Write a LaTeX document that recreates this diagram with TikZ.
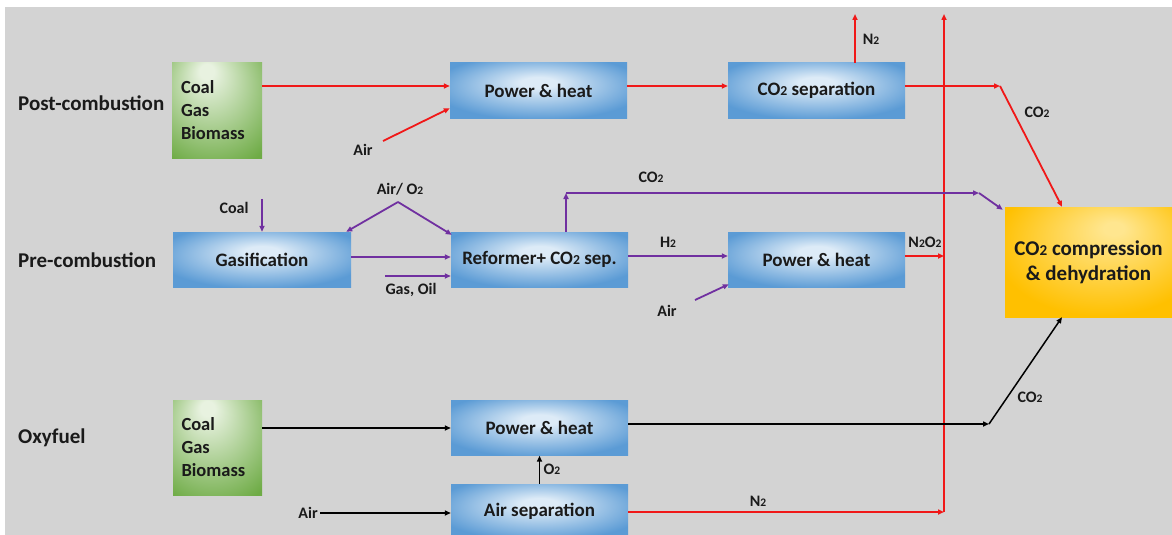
\documentclass[tikz,border=0pt]{standalone}
\usepackage{fontspec}
\setmainfont{Carlito}
\usetikzlibrary{arrows.meta,calc}
\definecolor{bg}{HTML}{D3D3D3}
\definecolor{bluel}{HTML}{DDEBF7}
\definecolor{blued}{HTML}{5B9BD5}
\definecolor{greenl}{HTML}{E8F2E0}
\definecolor{greend}{HTML}{6EAB45}
\definecolor{yell}{HTML}{FFE68F}
\definecolor{yeld}{HTML}{FFC000}
\definecolor{myred}{HTML}{F01818}
\definecolor{mypurple}{HTML}{7030A0}
\definecolor{txt}{HTML}{1A1A1A}
\pgfdeclareradialshading{blueshade}{\pgfpoint{0bp}{8bp}}{color(0bp)=(bluel); color(5bp)=(bluel); color(30bp)=(blued); color(50bp)=(blued)}
\pgfdeclareradialshading{greenshade}{\pgfpoint{-6bp}{22bp}}{color(0bp)=(greenl); color(4bp)=(greenl); color(40bp)=(greend); color(60bp)=(greend)}
\pgfdeclareradialshading{yelshade}{\pgfpoint{8bp}{16bp}}{color(0bp)=(yell); color(3bp)=(yell); color(32bp)=(yeld); color(60bp)=(yeld)}
\newcommand\tw{\scalebox{0.72}{2}}
\begin{document}
\begin{tikzpicture}[x=1pt,y=-1pt,
  box/.style={shading=blueshade, minimum width=177pt, minimum height=55pt, inner sep=0pt,
    font=\bfseries\fontsize{19}{22}\selectfont, text=txt},
  gbox/.style={shading=greenshade, minimum width=90pt, minimum height=95pt, inner sep=0pt,
    align=left, text width=72pt, font=\bfseries\fontsize{18.5}{23}\selectfont, text=txt},
  ybox/.style={shading=yelshade, minimum width=167pt, minimum height=110pt, inner sep=0pt,
    align=center, font=\bfseries\fontsize{21}{25}\selectfont, text=txt},
  rowlab/.style={anchor=west, inner sep=0pt, font=\bfseries\fontsize{21}{24}\selectfont, text=txt},
  lab/.style={inner sep=0pt, font=\bfseries\fontsize{16}{18}\selectfont, text=txt},
  tip/.style={-{Triangle[length=6pt,width=5pt]}},
  redarr/.style={tip, draw=myred, line width=1.8pt},
  purarr/.style={tip, draw=mypurple, line width=1.8pt},
  blkarr/.style={tip, draw=black, line width=1.5pt}
]
\fill[white] (0,0) rectangle (1172,535);
\fill[bg] (5,7) rectangle (1172,535);
\useasboundingbox (0,0) rectangle (1172,535);

% row labels
\node[rowlab] (lpost) at (18,103) {Post-combustion};
\node[rowlab] (lpre) at (18,260) {Pre-combustion};
\node[rowlab] (loxy) at (18,438) {Oxyfuel};

% boxes
\node[gbox] (g1) at (217,110.5) {Coal\\Gas\\Biomass};
\node[box] (ph1) at (538.5,90.5) {Power \& heat};
\node[box] (cs) at (816.5,90.5) {CO\tw{} separation};
\node[box, minimum width=178pt] (gas) at (262,259.5) {Gasification};
\node[box] (ref) at (539.5,259.5) {Reformer+ CO\tw{} sep.};
\node[box] (ph2) at (816.5,259.5) {Power \& heat};
\node[ybox] (yel) at (1088.5,262) {CO\tw{} compression\\\& dehydration};
\node[gbox, minimum width=89pt] (g2) at (217.5,447.5) {Coal\\Gas\\Biomass};
\node[box] (ph3) at (539.5,428) {Power \& heat};
\node[box] (as) at (539.5,511.5) {Air separation};

% free-end coordinates
\coordinate (n2top) at (855,14);
\coordinate (vtop) at (944,14);
\coordinate (vmid) at (944,256);
\coordinate (vbot) at (944,512);
\coordinate (k1) at (1000,86);
\coordinate (apex) at (398,202);
\coordinate (gasoil) at (385,276);
\coordinate (c1) at (566,193);
\coordinate (c2) at (979,193);
\coordinate (a2) at (695,300);
\coordinate (a1) at (383,141);
\coordinate (k3) at (989,424);

% labels
\node[lab] (air1) at (363,150) {Air};
\node[lab] (n2a) at (871,39) {N\tw};
\node[lab] (co2a) at (1037,112) {CO\tw};
\node[lab] (coal) at (234,208) {Coal};
\node[lab] (airo2) at (400,189) {Air/ O\tw};
\node[lab] (gasoill) at (411,290) {Gas, Oil};
\node[lab] (co2b) at (651,177) {CO\tw};
\node[lab] (h2) at (668,242) {H\tw};
\node[lab] (air2) at (667,311) {Air};
\node[lab] (n2o2) at (925,242) {N\tw{}O\tw};
\node[lab] (co2c) at (1030,397) {CO\tw};
\node[lab] (o2) at (552,469) {O\tw};
\node[lab, anchor=east] (air3) at (318,513) {Air};
\node[lab] (n2b) at (758,501) {N\tw};

% post-combustion
\draw[redarr] ($(g1.east)+(0,-24.5)$) -- ($(ph1.west)+(0,-4.5)$);
\draw[redarr] (a1) -- ($(ph1.south west)+(0,-10)$);
\draw[redarr] ($(ph1.east)+(0,-4.5)$) -- ($(cs.west)+(0,-4.5)$);
\draw[redarr] (cs.north -| n2top) -- (n2top);
\draw[redarr] ($(cs.east)+(0,-4.5)$) -- (k1);
\draw[redarr] (k1) -- ($(yel.north)+(-26.5,0)$);
\draw[redarr] (vbot) -- (vtop);

% pre-combustion
\draw[purarr] ($(gas.north)+(0,-33)$) -- (gas.north);
\draw[purarr] (apex) -- ($(gas.north east)+(-5,0)$);
\draw[purarr] (apex) -- ($(ref.north west)+(1,3)$);
\draw[purarr] ($(gas.east)+(0,-2.5)$) -- ($(ref.west)+(0,-2.5)$);
\draw[purarr] (gasoil) -- (ref.west |- gasoil);
\draw[purarr] (ref.north -| c1) -- (c1);
\draw[purarr] (c1) -- (c2);
\draw[purarr] (c2) -- ($(yel.north west)+(-2,3)$);
\draw[purarr] ($(ref.east)+(0,-3.5)$) -- ($(ph2.west)+(0,-3.5)$);
\draw[purarr] (a2) -- ($(ph2.south west)+(1,-3)$);
\draw[redarr] ($(ph2.east)+(0,-3.5)$) -- (vmid);

% oxyfuel
\draw[blkarr] (g2.east |- ph3.west) -- (ph3.west);
\draw[blkarr] ($(ph3.east)+(0,-4)$) -- (k3);
\draw[blkarr] (k3) -- ($(yel.south)+(-26.5,0)$);
\draw[blkarr] (as.north) -- (ph3.south);
\draw[blkarr] ([xshift=2pt]air3.east) -- (air3.east -| as.west);
\draw[redarr] (as.east |- vbot) -- (vbot);
\end{tikzpicture}
\end{document}
